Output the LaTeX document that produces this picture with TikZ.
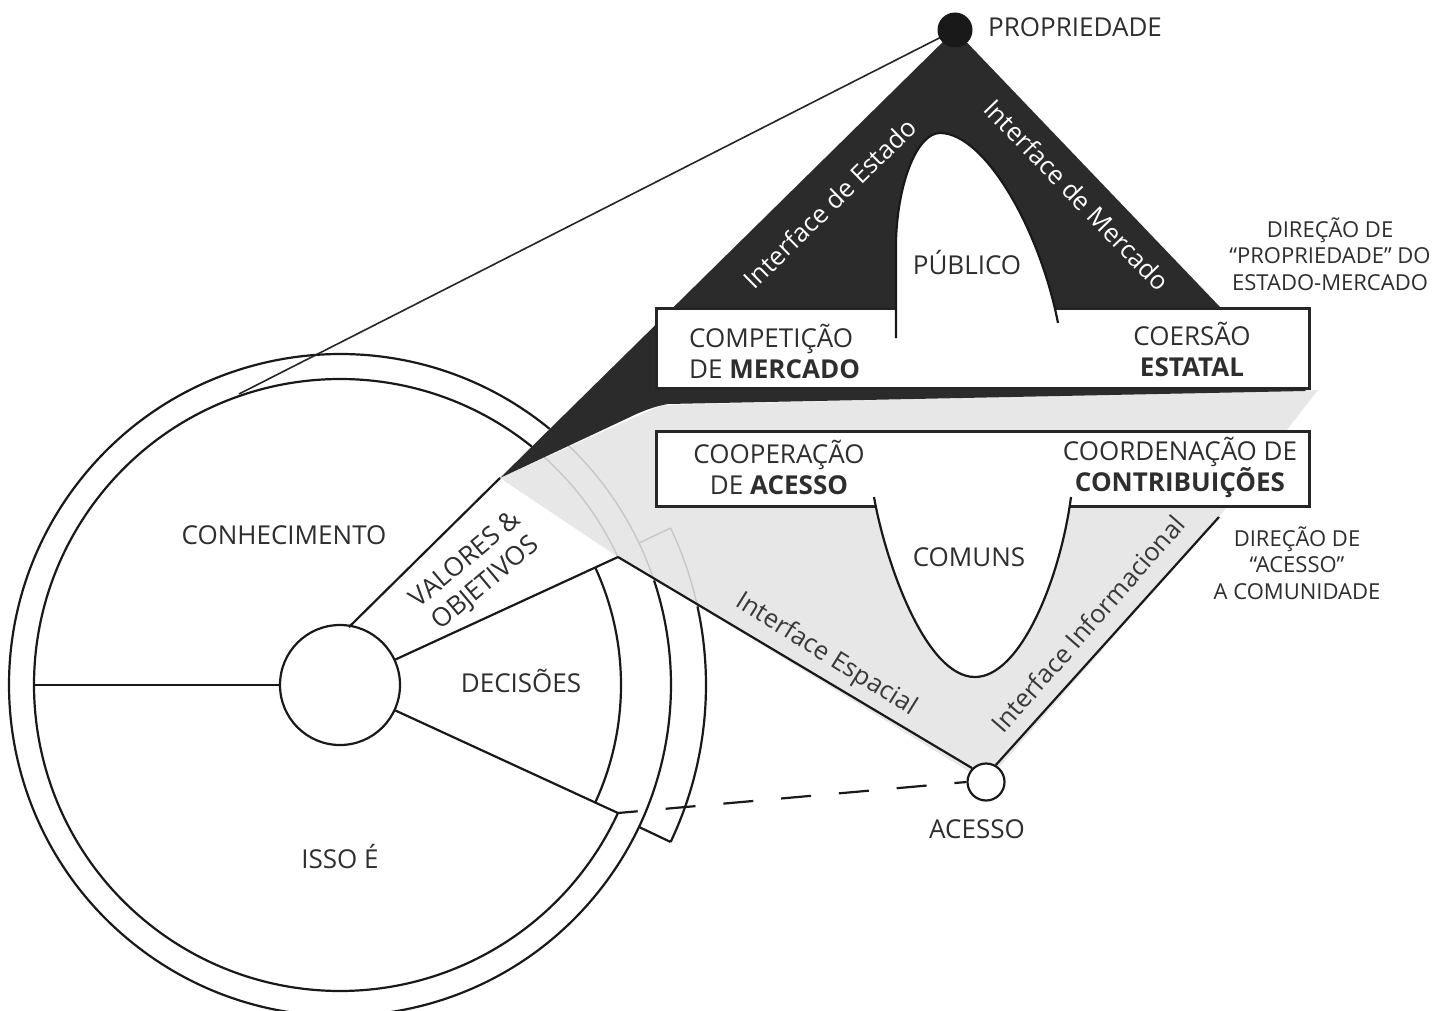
\documentclass[tikz,border=0pt]{standalone}
\usepackage{fontspec}
\setmainfont{Open Sans}
\begin{document}
\begin{tikzpicture}[x=1pt,y=-1pt,
  ln/.style={line width=2.2pt,draw=black!90},
  faint/.style={line width=1.4pt,draw=black!22},
  lbl/.style={text=black!82,font=\fontsize{26}{31}\selectfont,inner sep=0pt,align=center},
  side/.style={text=black!82,font=\fontsize{22}{26.5}\selectfont,inner sep=0pt,align=center},
  wlbl/.style={text=white,font=\fontsize{25.5}{30}\selectfont,inner sep=0pt},
  ilbl/.style={text=black!78,font=\fontsize{25.5}{30}\selectfont,inner sep=0pt},
  boxst/.style={line width=2.6pt,draw=black!85,fill=white}]
\definecolor{darkfill}{HTML}{2B2B2B}
\definecolor{greyfill}{HTML}{E7E7E7}
\useasboundingbox (0,0) rectangle (1445,1011);
\fill[white] (0,0) rectangle (1445,1011);
\clip (0,0) rectangle (1445,1011);
% key coordinates
\coordinate (C) at (340,685);
\coordinate (apex) at (955,30);
\coordinate (tip) at (500,478);
\coordinate (sctop) at (349,627);
\coordinate (sp1) at (618,557);
\coordinate (sp2) at (618,813);
\coordinate (infoTop) at (1219,517);
\coordinate (leftIn) at (34,685);
% grey region
\fill[greyfill] (tip) -- (662,405) -- (1318,390) -- (infoTop) -- (986,782) -- (sp1) -- cycle;
% faint continuations of circles and of the ring segment
\draw[faint] (C) ++(-24.7:306) arc[start angle=-24.7,end angle=-51.2,radius=306];
\draw[faint] (C) ++(-18.4:331) arc[start angle=-18.4,end angle=-50.7,radius=331];
\draw[faint] (C) ++(-12.4:366) arc[start angle=-12.4,end angle=-25.4,radius=366];
\draw[faint] (C) ++(-25.4:331) -- ++(-25.4:35);
% dark region
\fill[darkfill] (apex) -- (1220,307) -- (1308,387) -- (1305,391) -- (668,404)
   .. controls (655,406) and (640,412) .. (628,418) -- (tip) -- cycle;
% circles
\draw[ln] (C) ++(-50.7:331) arc[start angle=-50.7,end angle=-378.4,radius=331];
\draw[ln] (C) ++(-51.2:306) arc[start angle=-51.2,end angle=-335.3,radius=306];
\draw[ln] (C) ++(24.7:281) arc[start angle=24.7,end angle=-24.7,radius=281];
\draw[ln] (C) ++(25.4:366) arc[start angle=25.4,end angle=-12.4,radius=366];
\draw[ln] (C) ++(25.4:331) -- ++(25.4:35);
\node[circle,draw=black!90,line width=2.2pt,fill=white,minimum size=120pt,inner sep=0pt] (hub) at (C) {};
\draw[ln] (hub.west) -- (leftIn);
\draw[ln] (C) ++(-24.7:60) -- (sp1);
\draw[ln] (C) ++(24.7:60) -- (sp2);
\draw[ln] (sctop) -- (tip);
% line from PROPRIEDADE to the circle
\coordinate (propEnd) at (239,394);
\draw[line width=1.6pt,draw=black!85] (apex) -- (propEnd);
% ACESSO node and interfaces
\node[circle,draw=black!90,line width=2.2pt,fill=white,minimum size=37pt,inner sep=0pt] (acc) at (986,782) {};
\draw[ln] (sp1) -- (acc.135);
\draw[ln] (acc.60) -- (infoTop);
\draw[ln,dash pattern=on 30pt off 28pt,dash phase=18pt] (acc.west) -- (sp2);
% PROPRIEDADE dot
\node[circle,fill=black!90,minimum size=35pt,inner sep=0pt] (prop) at (apex) {};
% boxes
\node[boxst,minimum width=653pt,minimum height=80pt,anchor=north west,inner sep=0pt] (boxA) at (655,307) {};
\node[boxst,minimum width=653pt,minimum height=75pt,anchor=north west,inner sep=0pt] (boxB) at (655,430) {};
% PUBLICO arch
\fill[white] (896,339) -- (896,240) .. controls (898,180) and (918,133) .. (940,133)
   .. controls (985,133) and (1040,230) .. (1058,323) -- (1058,339) -- cycle;
\draw[ln] (896,338) -- (896,240) .. controls (898,180) and (918,133) .. (940,133)
   .. controls (985,133) and (1040,230) .. (1058,323);
% COMUNS U
\fill[white] (874,497) .. controls (885,560) and (925,677) .. (975,677)
   .. controls (1020,677) and (1060,580) .. (1071,497) -- cycle;
\draw[ln] (874,497) .. controls (885,560) and (925,677) .. (975,677)
   .. controls (1020,677) and (1060,580) .. (1071,497);
% texts
\node[lbl,anchor=west] (tprop) at (988,27) {PROPRIEDADE};
\node[wlbl,rotate=44.5] (tiest) at (830,203) {Interface de Estado};
\node[wlbl,rotate=-46] (timer) at (1077,195) {Interface de Mercado};
\node[lbl] (tpub) at (967,263) {PÚBLICO};
\node[side] (tdir1) at (1330,254) {DIREÇÃO DE\\“PROPRIEDADE” DO\\ESTADO-MERCADO};
\node[lbl,align=left,anchor=west] (tcomp) at (689,351) {COMPETIÇÃO\\DE \textbf{MERCADO}};
\node[lbl] (tcoer) at (1192,349) {COERSÃO\\\textbf{ESTATAL}};
\node[lbl] (tcoop) at (779,467) {COOPERAÇÃO\\DE \textbf{ACESSO}};
\node[lbl] (tcoord) at (1180,467) {COORDENAÇÃO DE\\\textbf{CONTRIBUIÇÕES}};
\node[lbl] (tcom) at (969,557) {COMUNS};
\node[side] (tdir2) at (1297,563) {DIREÇÃO DE\\“ACESSO”\\A COMUNIDADE};
\node[lbl] (tcon) at (284,535) {CONHECIMENTO};
\node[lbl,rotate=40] (tval) at (476,572) {VALORES \&\\OBJETIVOS};
\node[lbl] (tdec) at (521,681) {DECISÕES};
\node[lbl] (tisso) at (340,857) {ISSO É};
\node[ilbl,rotate=-32] (tesp) at (826,655) {Interface Espacial};
\node[ilbl,rotate=48.8] (tinf) at (1088,624) {Interface Informacional};
\node[lbl] (tacc) at (977,829) {ACESSO};
\end{tikzpicture}
\end{document}
